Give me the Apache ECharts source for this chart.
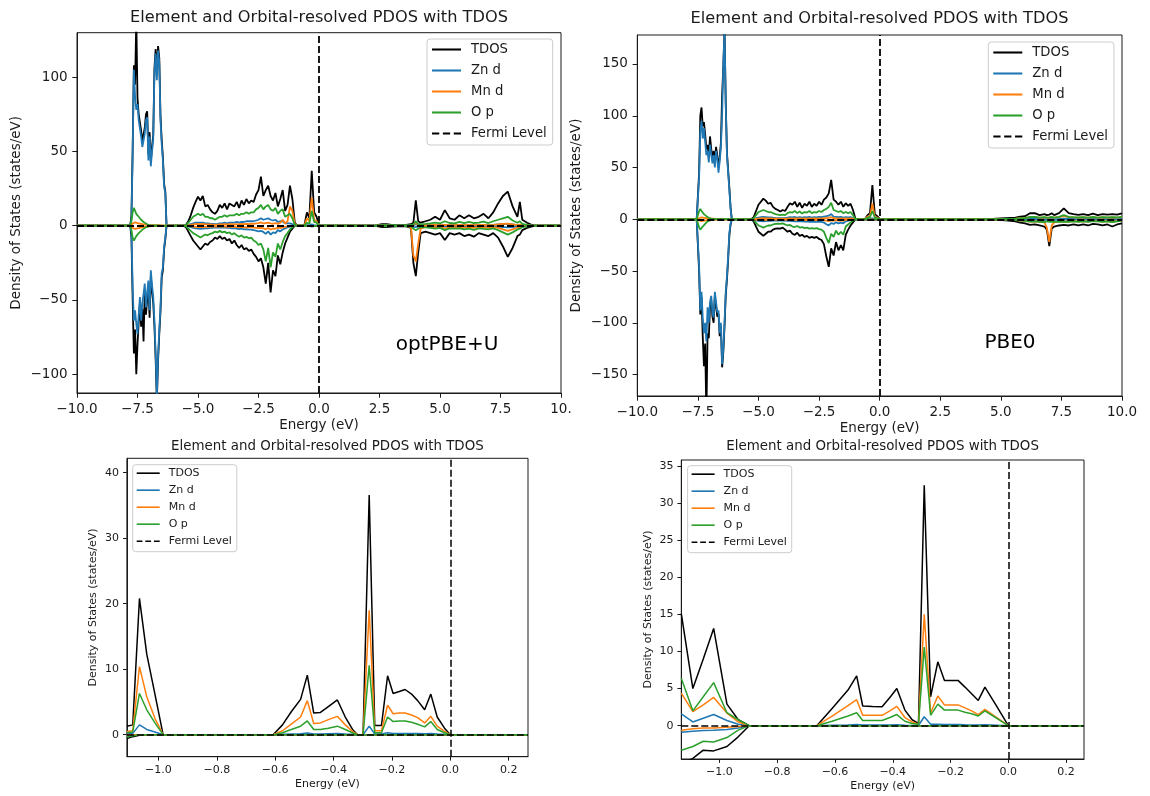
<!DOCTYPE html>
<html>
<head>
<meta charset="utf-8">
<script src="https://cdn.jsdelivr.net/npm/echarts@6/dist/echarts.min.js"></script>
<style>
  html, body { margin: 0; padding: 0; background: #ffffff; }
  #chart { width: 1150px; height: 796px; }
</style>
</head>
<body>
<div id="chart"></div>
<script>
// ---------------------------------------------------------------
// Spin-resolved PDOS of Mn-doped ZnO (spin up > 0, spin down < 0)
// ---------------------------------------------------------------
const fermiEnergy = 0;
const orbitalNames = ['TDOS', 'Zn d', 'Mn d', 'O p'];
const legendNames = ['TDOS', 'Zn d', 'Mn d', 'O p', 'Fermi Level'];

// Tick values and their printed text
const wideTicks = [-10, -7.5, -5, -2.5, 0, 2.5, 5, 7.5, 10];
const optWideTickText = ['\u221210.0', '\u22127.5', '\u22125.0', '\u22122.5', '0.0', '2.5', '5.0', '7.5', '10.'];
const pbeWideTickText = ['\u221210.0', '\u22127.5', '\u22125.0', '\u22122.5', '0.0', '2.5', '5.0', '7.5', '10.0'];
const optDosTicks = [-100, -50, 0, 50, 100];
const pbeDosTicks = [-150, -100, -50, 0, 50, 100, 150];
const nearTicks = [-1.0, -0.8, -0.6, -0.4, -0.2, 0.0, 0.2];
const optNearDosTicks = [0, 10, 20, 30, 40];
const pbeNearDosTicks = [0, 5, 10, 15, 20, 25, 30, 35];

// ---------------- optPBE+U, full window ----------------
const optE = [
  -10.0, -7.80,
  -7.75, -7.70, -7.65, -7.60, -7.55, -7.50, -7.45, -7.40, -7.35, -7.30,
  -7.25, -7.20, -7.15, -7.10, -7.05, -7.00, -6.95, -6.90, -6.85, -6.80,
  -6.75, -6.70, -6.65, -6.60, -6.55, -6.50, -6.45, -6.40, -6.35, -6.30,
  -5.6, -5.5, -5.4, -5.3, -5.2, -5.1, -5.0, -4.9, -4.8, -4.7,
  -4.6, -4.5, -4.4, -4.3, -4.2, -4.1, -4.0, -3.9, -3.8, -3.7,
  -3.6, -3.5, -3.4, -3.3, -3.2, -3.1, -3.0, -2.9, -2.8, -2.7,
  -2.6, -2.5, -2.4, -2.3, -2.2, -2.1, -2.0, -1.9, -1.8, -1.7,
  -1.6, -1.5, -1.4, -1.3, -1.2, -1.1, -1.0, -0.9, -0.8, -0.7,
  -0.6, -0.5, -0.4, -0.3, -0.2, -0.1, 0.0, 0.1,
  2.4, 2.6, 2.8, 3.0, 3.2, 3.4, 3.6, 3.8, 3.9, 4.0,
  4.1, 4.2, 4.4, 4.6, 4.8, 5.0, 5.2, 5.4, 5.6, 5.8,
  6.0, 6.2, 6.4, 6.6, 6.8, 7.0, 7.2, 7.4, 7.6, 7.8,
  8.0, 8.2, 8.3, 8.4, 8.6, 8.8, 9.0,
  10.0
];
const optTdosUp = [
  0, 0,
  7, 52, 108, 95, 140, 86, 75, 76, 64, 57,
  57, 66, 75, 77, 48, 63, 43, 53, 61, 106,
  119, 101, 121, 113, 74, 58, 46, 28, 23, 0,
  0, 0.5, 3, 7, 12, 16, 19.5, 17, 20, 13,
  14, 11, 9, 8, 10, 14, 12, 15, 11, 15,
  14, 13, 16, 12, 17, 14, 18, 15, 17, 16,
  21, 24, 33, 20, 24, 27, 20, 17, 22, 13,
  18, 24, 10, 14, 27, 18, 2, 0, 0, 0,
  0.5, 9, 5, 37, 9, 6, 0.5, 0,
  0.3, 1, 1, 0.6, 0.4, 0.3, 0.5, 1, 2, 17,
  3, 2, 3, 4, 6, 4, 10.5, 5, 4, 7,
  5, 7, 5, 6, 8, 5, 9, 15, 20, 23,
  13, 6, 16, 4, 2, 0.5, 0,
  0
];
const optTdosDown = [
  0, 0,
  -8, -50, -86, -70, -100, -80, -65, -52, -68, -56,
  -78, -44, -60, -50, -41, -62, -34, -44, -52, -68,
  -90, -118, -91, -73, -58, -35, -30, -16, -9, 0,
  0, -1, -4, -7, -10, -12, -14, -16, -14, -12,
  -13, -11, -10, -8, -9, -7, -9, -8, -10, -9,
  -12, -10, -13, -15, -13, -16, -15, -17, -16, -19,
  -21, -24, -22, -28, -39, -25, -45, -30, -34, -20,
  -26, -18, -12, -8, -4, -2, 0, 0, 0, 0,
  0, -0.3, -0.2, -0.5, -0.3, -0.2, 0, 0,
  -0.3, -1, -1, -0.6, -0.4, -0.3, -0.5, -1.5, -25, -34,
  -18, -5, -4, -5, -6, -5, -9.7, -5, -6, -5,
  -7, -6, -7.4, -5, -6, -7, -5, -8, -14, -21,
  -15, -7, -6, -3, -1.5, -0.5, 0,
  0
];
const optZnUp = [
  0, 0,
  5, 48, 105, 87, 78, 82, 71, 72, 60, 53,
  53, 62, 71, 73, 44, 60, 40, 50, 58, 103,
  116, 98, 118, 110, 71, 55, 44, 26, 22, 0,
  0, 0.1, 0.5, 1, 1.5, 2, 2, 2, 2, 1.5,
  1.5, 1.3, 1.2, 1, 1.2, 1.5, 1.5, 2, 1.5, 2,
  2, 2, 2.5, 2, 2.5, 2.5, 3, 3, 3, 3,
  3.5, 4, 5, 4, 4.5, 5, 4, 3.5, 4, 2.5,
  3, 3, 1.5, 1.5, 1.5, 1, 0.1, 0, 0, 0,
  0.1, 0.3, 0.2, 1, 0.2, 0.2, 0, 0,
  0.1, 0.2, 0.2, 0.1, 0.1, 0.1, 0.1, 0.2, 0.3, 1,
  0.3, 0.3, 0.3, 0.4, 0.5, 0.4, 0.6, 0.4, 0.4, 0.5,
  0.4, 0.5, 0.4, 0.5, 0.6, 0.4, 0.6, 0.8, 1, 1.2,
  0.8, 0.4, 0.6, 0.3, 0.2, 0.1, 0,
  0
];
const optZnDown = [
  0, 0,
  -5, -41, -64, -57, -66, -73, -60, -48, -64, -52,
  -46, -39, -55, -45, -37, -57, -30, -40, -48, -64,
  -86, -115, -88, -70, -55, -32, -28, -14, -8, 0,
  0, -0.1, -0.5, -1, -1.5, -1.8, -2, -2.2, -2, -1.8,
  -1.8, -1.5, -1.4, -1.2, -1.3, -1.1, -1.3, -1.2, -1.5, -1.4,
  -1.8, -1.6, -2, -2.3, -2, -2.5, -2.4, -2.7, -2.6, -3,
  -3.3, -3.8, -3.5, -4.2, -5.5, -3.8, -6, -4.5, -5, -3,
  -3.8, -2.6, -1.8, -1.2, -0.6, -0.3, 0, 0, 0, 0,
  0, -0.1, -0.1, -0.2, -0.1, -0.1, 0, 0,
  -0.1, -0.2, -0.2, -0.1, -0.1, -0.1, -0.1, -0.2, -0.8, -1,
  -0.6, -0.3, -0.3, -0.4, -0.5, -0.4, -0.6, -0.4, -0.5, -0.4,
  -0.5, -0.5, -0.6, -0.4, -0.5, -0.6, -0.4, -0.6, -0.9, -1.2,
  -0.9, -0.5, -0.5, -0.3, -0.2, -0.1, 0,
  0
];
const optMnUp = [
  0, 0,
  0.3, 1.5, 2.5, 2.2, 2, 1.8, 1.6, 1.4, 1.2, 1,
  0.9, 0.8, 0.7, 0.6, 0.5, 0.4, 0.3, 0.3, 0.3, 0.3,
  0.3, 0.3, 0.3, 0.3, 0.2, 0.2, 0.1, 0.1, 0.1, 0,
  0, 0.1, 0.3, 0.5, 0.8, 1, 1.2, 1.1, 1.2, 0.9,
  0.9, 0.8, 0.7, 0.6, 0.7, 0.9, 0.8, 1, 0.8, 1,
  1, 0.9, 1.1, 0.9, 1.2, 1, 1.3, 1.1, 1.3, 1.2,
  1.5, 1.7, 2.2, 1.5, 1.8, 2, 1.5, 1.3, 1.8, 1.2,
  2, 4, 1.5, 3, 13, 10, 1, 0, 0, 0,
  0.2, 5, 3, 19, 4, 3, 0.2, 0,
  0.1, 0.2, 0.2, 0.1, 0.1, 0.1, 0.1, 0.2, 0.3, 2,
  0.4, 0.3, 0.3, 0.4, 0.5, 0.4, 0.6, 0.4, 0.4, 0.5,
  0.4, 0.5, 0.4, 0.5, 0.6, 0.4, 0.6, 0.9, 1.2, 1.4,
  0.9, 0.4, 0.8, 0.3, 0.2, 0.1, 0,
  0
];
const optMnDown = [
  0, 0,
  -0.3, -1.5, -2.5, -2.2, -2, -1.8, -1.6, -1.4, -1.2, -1,
  -0.9, -0.8, -0.7, -0.6, -0.5, -0.4, -0.3, -0.3, -0.3, -0.3,
  -0.3, -0.3, -0.3, -0.3, -0.2, -0.2, -0.1, -0.1, -0.1, 0,
  0, -0.1, -0.3, -0.5, -0.7, -0.8, -0.9, -1, -0.9, -0.8,
  -0.8, -0.7, -0.6, -0.5, -0.6, -0.5, -0.6, -0.5, -0.7, -0.6,
  -0.8, -0.7, -0.9, -1, -0.9, -1.1, -1, -1.2, -1.1, -1.3,
  -1.4, -1.6, -1.5, -1.8, -2.4, -1.6, -2.6, -1.9, -2.1, -1.3,
  -1.6, -1.1, -0.8, -0.5, -0.3, -0.1, 0, 0, 0, 0,
  0, -0.1, -0.1, -0.2, -0.1, -0.1, 0, 0,
  -0.1, -0.3, -0.3, -0.2, -0.1, -0.1, -0.2, -1, -20, -24,
  -12, -2, -0.8, -1, -1.2, -1, -2, -1, -1.2, -1,
  -1.4, -1.2, -1.5, -1, -1.2, -1.4, -1, -1.5, -2.5, -3.5,
  -2.5, -1.2, -1, -0.5, -0.3, -0.1, 0,
  0
];
const optOpUp = [
  0, 0,
  3, 9, 12, 10, 8, 7, 6, 5, 4, 3,
  2.5, 2, 1.5, 1, 0.5, 0.3, 0.2, 0.2, 0.2, 0.2,
  0.2, 0.2, 0.2, 0.2, 0.1, 0.1, 0.1, 0.1, 0.1, 0,
  0, 0.3, 2, 4, 6, 7, 8, 7, 8, 6,
  6, 5, 5, 4, 5, 6, 6, 7, 6, 7,
  7, 7, 8, 7, 8, 8, 9, 8, 9, 9,
  11, 12, 14, 11, 13, 14, 11, 10, 12, 8,
  10, 11, 6, 7, 8, 5, 0.5, 0, 0, 0,
  0.2, 2, 1.3, 10, 2.5, 2, 0.2, 0,
  0.2, 0.4, 0.4, 0.3, 0.2, 0.2, 0.3, 0.5, 0.8, 3,
  1, 1, 1.2, 1.5, 2, 1.5, 3, 1.8, 1.5, 2.5,
  1.8, 2.5, 1.8, 2, 2.8, 1.8, 3, 4, 5, 6,
  3.5, 2, 3, 1.2, 0.6, 0.2, 0,
  0
];
const optOpDown = [
  0, 0,
  -3, -8, -10, -9, -7, -6, -5, -4, -3.5, -3,
  -2, -1.5, -1, -0.7, -0.4, -0.2, -0.1, -0.1, -0.1, -0.1,
  -0.1, -0.1, -0.1, -0.1, -0.1, -0.1, -0.1, -0.1, -0.1, 0,
  0, -0.5, -2, -3.5, -5, -6, -7, -8, -7, -6,
  -6.5, -5.5, -5, -4, -4.5, -3.5, -4.5, -4, -5, -4.5,
  -6, -5, -6.5, -7.5, -6.5, -8, -7.5, -8.5, -8, -10,
  -11, -13, -12, -16, -24, -15, -28, -18, -21, -12,
  -16, -11, -7, -5, -2.5, -1, 0, 0, 0, 0,
  0, -0.2, -0.1, -0.3, -0.2, -0.1, 0, 0,
  -0.2, -0.4, -0.4, -0.3, -0.2, -0.2, -0.3, -0.5, -2, -3,
  -2, -1, -1.2, -1.5, -2, -1.5, -3, -1.8, -2, -1.8,
  -2.5, -2, -2.8, -1.8, -2.2, -2.5, -1.8, -3, -4.5, -6,
  -4.5, -2.5, -2, -1, -0.5, -0.2, 0,
  0
];

// ---------------- PBE0, full window ----------------
const pbeE = [
  -10.0, -7.55,
  -7.50, -7.45, -7.40, -7.35, -7.30, -7.25, -7.20, -7.15, -7.10, -7.05,
  -7.00, -6.95, -6.90, -6.85, -6.80, -6.75, -6.70, -6.65, -6.60, -6.55,
  -6.50, -6.45, -6.40, -6.35, -6.30, -6.25, -6.20, -6.15, -6.10,
  -5.3, -5.2, -5.1, -5.0, -4.9, -4.8, -4.7, -4.6, -4.5, -4.4,
  -4.3, -4.2, -4.1, -4.0, -3.9, -3.8, -3.7, -3.6, -3.5, -3.4,
  -3.3, -3.2, -3.1, -3.0, -2.9, -2.8, -2.7, -2.6, -2.5, -2.4,
  -2.3, -2.2, -2.1, -2.0, -1.9, -1.8, -1.7, -1.6, -1.5, -1.4,
  -1.3, -1.2, -1.1, -1.0, -0.9, -0.8, -0.7, -0.6, -0.5, -0.4,
  -0.3, -0.2, -0.1, 0.0, 0.1,
  4.4, 4.8, 5.2, 5.6, 5.8, 6.0, 6.2, 6.4, 6.6, 6.8,
  6.9, 7.0, 7.1, 7.2, 7.4, 7.6, 7.8, 8.0, 8.2, 8.4,
  8.6, 8.8, 9.0, 9.2, 9.4, 9.6, 9.8, 10.0
];
const pbeTdosUp = [
  0, 0,
  0, 45, 100, 108, 90, 94, 82, 68, 72, 60,
  80, 68, 58, 66, 56, 70, 62, 50, 60, 74,
  120, 148, 185, 112, 64, 47, 30, 11, 0,
  0, 2, 8, 14, 17, 20, 18, 15, 16, 12,
  10, 9, 7.4, 9, 8, 12, 15.5, 14, 17, 12,
  16, 11, 15, 13, 17, 12, 15, 13, 17, 14,
  19, 21, 25, 38, 19, 17, 14, 17, 12, 15.5,
  13, 15, 9, 0.5, 0, 0, 0, 0.5, 4, 6,
  33, 5, 3, 0.5, 0,
  0, 0.5, 1, 1.5, 2.6, 3, 5.8, 6, 4, 5,
  4, 4.5, 5.8, 4, 6, 10.6, 6, 5, 4.2, 5,
  4, 5.5, 4, 5, 4.5, 5, 4.5, 5.8
];
const pbeTdosDown = [
  0, 0,
  0, -50, -92, -75, -113, -142, -120, -190, -110, -115,
  -85, -78, -94, -100, -74, -84, -94, -91, -113, -103,
  -143, -128, -103, -73, -58, -38, -15, -5, 0,
  0, -2, -7, -12, -14, -16, -14, -12, -12, -10,
  -9, -8.7, -9, -8, -10, -12, -11, -14, -15, -13,
  -16, -15, -17, -16, -18, -17, -18, -17, -19, -20,
  -24, -36, -46, -28, -35, -22, -30, -25, -30, -15,
  -10, -6, -3, 0, 0, 0, 0, 0, -0.2, -0.3,
  -0.5, -0.2, -0.1, 0, 0,
  0, -0.5, -1, -2, -3.2, -4, -5.5, -5, -6, -7,
  -10, -26, -9, -7, -6, -5.5, -6, -5, -6, -5,
  -6, -4.5, -5, -6, -5, -7, -5, -4
];
const pbeZnUp = [
  0, 0,
  0, 40, 85, 95, 78, 88, 75, 62, 66, 55,
  72, 63, 54, 62, 50, 66, 58, 45, 56, 70,
  100, 150, 182, 110, 62, 45, 28, 10, 0,
  0, 0.3, 1, 1.5, 2, 2.2, 2, 1.8, 1.8, 1.5,
  1.3, 1.2, 1, 1.2, 1.1, 1.5, 2, 1.8, 2.2, 1.6,
  2, 1.5, 2, 1.8, 2.2, 1.7, 2, 1.8, 2.3, 2,
  2.6, 3, 3.5, 5, 2.6, 2.4, 2, 2.4, 1.7, 2,
  1.8, 2, 1.2, 0.1, 0, 0, 0, 0.1, 0.3, 0.4,
  1, 0.3, 0.2, 0, 0,
  0, 0.05, 0.1, 0.1, 0.2, 0.2, 0.3, 0.3, 0.2, 0.3,
  0.2, 0.3, 0.3, 0.2, 0.3, 0.5, 0.3, 0.3, 0.2, 0.3,
  0.2, 0.3, 0.2, 0.3, 0.2, 0.3, 0.2, 0.3
];
const pbeZnDown = [
  0, 0,
  0, -45, -88, -70, -95, -110, -100, -118, -85, -100,
  -80, -74, -90, -95, -70, -80, -90, -88, -110, -100,
  -140, -125, -100, -70, -55, -35, -13, -4, 0,
  0, -0.3, -1, -1.5, -1.8, -2, -1.8, -1.6, -1.6, -1.4,
  -1.2, -1.2, -1.2, -1.1, -1.3, -1.6, -1.5, -1.8, -2, -1.7,
  -2.1, -2, -2.2, -2.1, -2.4, -2.2, -2.4, -2.2, -2.5, -2.6,
  -3.2, -4.8, -6, -3.6, -4.5, -2.9, -3.9, -3.2, -3.9, -2,
  -1.3, -0.8, -0.4, 0, 0, 0, 0, 0, -0.05, -0.1,
  -0.1, -0.05, 0, 0, 0,
  0, -0.05, -0.1, -0.2, -0.2, -0.3, -0.4, -0.3, -0.4, -0.5,
  -0.6, -1, -0.6, -0.5, -0.4, -0.4, -0.4, -0.3, -0.4, -0.3,
  -0.4, -0.3, -0.3, -0.4, -0.3, -0.5, -0.3, -0.3
];
const pbeMnUp = [
  0, 0,
  0, 1, 2, 1.8, 1.6, 1.4, 1.2, 1, 0.9, 0.8,
  0.7, 0.6, 0.5, 0.5, 0.4, 0.4, 0.4, 0.3, 0.3, 0.3,
  0.3, 0.3, 0.3, 0.2, 0.2, 0.1, 0.1, 0.1, 0,
  0, 0.1, 0.4, 0.7, 0.9, 1, 0.9, 0.8, 0.8, 0.6,
  0.5, 0.5, 0.4, 0.5, 0.4, 0.6, 0.8, 0.7, 0.9, 0.6,
  0.8, 0.6, 0.8, 0.7, 0.9, 0.6, 0.8, 0.7, 0.9, 0.7,
  1, 1.1, 1.3, 2, 1, 0.9, 0.7, 0.9, 0.6, 0.8,
  0.7, 0.8, 0.5, 0.1, 0, 0, 0, 0.3, 2.5, 3,
  15, 2, 1.5, 0.2, 0,
  0, 0.2, 0.4, 0.6, 1, 1.2, 2, 2, 1.5, 1.8,
  1.5, 1.6, 2, 1.5, 2, 3, 2, 1.8, 1.5, 1.8,
  1.5, 2, 1.5, 1.8, 1.6, 1.8, 1.6, 2
];
const pbeMnDown = [
  0, 0,
  0, -1, -2, -1.8, -1.6, -1.4, -1.2, -1, -0.9, -0.8,
  -0.7, -0.6, -0.5, -0.5, -0.4, -0.4, -0.4, -0.3, -0.3, -0.3,
  -0.3, -0.3, -0.3, -0.2, -0.2, -0.1, -0.1, -0.1, 0,
  0, -0.1, -0.3, -0.5, -0.6, -0.7, -0.6, -0.5, -0.5, -0.4,
  -0.4, -0.4, -0.4, -0.3, -0.4, -0.5, -0.5, -0.6, -0.6, -0.5,
  -0.6, -0.6, -0.7, -0.6, -0.7, -0.7, -0.7, -0.7, -0.8, -0.8,
  -1, -1.4, -1.8, -1.1, -1.4, -0.9, -1.2, -1, -1.2, -0.6,
  -0.4, -0.2, -0.1, 0, 0, 0, 0, 0, -0.1, -0.1,
  -0.2, -0.1, 0, 0, 0,
  0, -0.2, -0.4, -0.8, -1.2, -1.5, -2.2, -2, -2.4, -3,
  -8, -22, -6, -3, -2.3, -2, -2.3, -1.8, -2.3, -1.8,
  -2.3, -1.6, -1.8, -2.3, -1.8, -2.6, -1.8, -1.5
];
const pbeOpUp = [
  0, 0,
  0, 8, 10, 8, 6.5, 5, 4, 3, 2, 1.5,
  1, 0.6, 0.4, 0.3, 0.2, 0.2, 0.2, 0.2, 0.2, 0.2,
  0.2, 0.2, 0.2, 0.1, 0.1, 0.1, 0.1, 0.1, 0,
  0, 1, 4, 7, 8, 9, 8, 7, 7, 6,
  5, 4.5, 4, 4.5, 4, 6, 7, 6.5, 8, 6,
  7.5, 5.5, 7, 6.5, 8, 6, 7, 6.5, 8, 7,
  9, 10, 12, 16, 9, 8, 7, 8, 6, 7,
  6, 7, 4, 0.3, 0, 0, 0, 0.2, 1.5, 2,
  8, 2, 1, 0.2, 0,
  0, 0.2, 0.4, 0.6, 1, 1.2, 2.2, 2.3, 1.5, 2,
  1.6, 1.8, 2.3, 1.6, 2.3, 4, 2.4, 2, 1.7, 2,
  1.6, 2.2, 1.6, 2, 1.8, 2, 1.8, 2.3
];
const pbeOpDown = [
  0, 0,
  0, -8, -10, -9, -7, -6, -4.5, -3, -2, -1.5,
  -1, -0.5, -0.3, -0.2, -0.1, -0.1, -0.1, -0.1, -0.1, -0.1,
  -0.1, -0.1, -0.1, -0.1, -0.1, -0.1, -0.1, -0.1, 0,
  0, -1, -3.5, -6, -7, -8, -7, -6, -6, -5,
  -4.5, -4.3, -4.5, -4, -5, -6, -5.5, -7, -7.5, -6.5,
  -8, -7.5, -8.5, -8, -9, -8.5, -9, -8.5, -9.5, -10,
  -12, -18, -23, -14, -17, -11, -15, -12, -15, -7,
  -5, -3, -1.5, 0, 0, 0, 0, 0, -0.1, -0.1,
  -0.2, -0.1, 0, 0, 0,
  0, -0.2, -0.4, -0.8, -1.3, -1.6, -2.2, -2, -2.4, -2.8,
  -2, -2.5, -2.3, -2.6, -2.4, -2.2, -2.4, -2, -2.4, -2,
  -2.4, -1.8, -2, -2.4, -2, -2.8, -2, -1.6
];

// ---------------- optPBE+U, near the Fermi level ----------------
const optNearE = [
  -1.108, -1.088, -1.065, -1.040, -1.012, -0.984, -0.607, -0.575, -0.545, -0.513,
  -0.490, -0.468, -0.445, -0.418, -0.387, -0.360, -0.335, -0.318, -0.299, -0.278,
  -0.259, -0.236, -0.215, -0.196, -0.175, -0.155, -0.133, -0.112, -0.088, -0.067,
  -0.045, -0.020, 0.0, 0.266
];
const optNearTdosUp = [
  1.3, 1.5, 20.8, 12.3, 6.2, 0, 0, 1.5, 3.5, 5.4,
  9.1, 3.3, 3.4, 4.3, 5.3, 2.7, 0.8, 0, 0, 36.6,
  1.4, 1.4, 9.0, 6.3, 6.6, 6.9, 6.2, 5.2, 3.8, 6.2,
  2.7, 1.0, 0, 0
];
const optNearTdosDown = [
  -0.6, -0.3, -0.1, -0.05, 0, 0, 0, 0, 0, 0,
  0, 0, 0, 0, 0, 0, 0, 0, 0, 0,
  0, 0, 0, 0, 0, 0, 0, 0, 0, 0,
  0, 0, 0, 0
];
const optNearZnUp = [
  0.1, 0.2, 1.5, 0.8, 0.4, 0, 0, 0.05, 0.1, 0.15,
  0.25, 0.1, 0.1, 0.15, 0.2, 0.1, 0.05, 0, 0, 1.3,
  0.1, 0.1, 0.3, 0.2, 0.2, 0.2, 0.2, 0.2, 0.15, 0.2,
  0.1, 0.05, 0, 0
];
const optNearZnDown = [
  -0.1, -0.05, 0, 0, 0, 0, 0, 0, 0, 0,
  0, 0, 0, 0, 0, 0, 0, 0, 0, 0,
  0, 0, 0, 0, 0, 0, 0, 0, 0, 0,
  0, 0, 0, 0
];
const optNearMnUp = [
  0.5, 0.6, 10.4, 5.8, 2.5, 0, 0, 0.6, 1.6, 2.7,
  5.2, 1.7, 1.8, 2.3, 2.8, 1.5, 0.5, 0, 0, 19.0,
  0.6, 0.6, 4.5, 3.2, 3.3, 3.3, 3.0, 2.6, 1.8, 2.8,
  1.3, 0.5, 0, 0
];
const optNearMnDown = [
  -0.05, 0, 0, 0, 0, 0, 0, 0, 0, 0,
  0, 0, 0, 0, 0, 0, 0, 0, 0, 0,
  0, 0, 0, 0, 0, 0, 0, 0, 0, 0,
  0, 0, 0, 0
];
const optNearOpUp = [
  0.3, 0.4, 6.3, 3.8, 1.8, 0, 0, 0.3, 0.8, 1.3,
  2.1, 0.8, 0.8, 1.0, 1.3, 0.8, 0.3, 0, 0, 10.6,
  0.3, 0.3, 2.7, 2.0, 2.1, 2.1, 1.9, 1.6, 1.2, 2.0,
  0.8, 0.3, 0, 0
];
const optNearOpDown = [
  -0.3, -0.15, -0.05, 0, 0, 0, 0, 0, 0, 0,
  0, 0, 0, 0, 0, 0, 0, 0, 0, 0,
  0, 0, 0, 0, 0, 0, 0, 0, 0, 0,
  0, 0, 0, 0
];

// ---------------- PBE0, near the Fermi level ----------------
const pbeNearE = [
  -1.132, -1.092, -1.056, -1.020, -0.974, -0.935, -0.897, -0.663, -0.610, -0.555,
  -0.525, -0.504, -0.470, -0.437, -0.410, -0.386, -0.358, -0.333, -0.311, -0.291,
  -0.269, -0.244, -0.221, -0.198, -0.174, -0.150, -0.127, -0.104, -0.081, -0.040,
  0.0, 0.262
];
const pbeNearTdosUp = [
  15.1, 5.0, 9.0, 13.1, 2.9, 0.8, 0, 0, 2.3, 4.8,
  6.7, 2.65, 2.6, 2.56, 3.8, 5.0, 2.1, 0.8, 0.3, 32.4,
  3.9, 8.6, 6.1, 6.1, 6.1, 5.2, 4.3, 3.4, 5.2, 2.6,
  0, 0
];
const pbeNearTdosDown = [
  -5.2, -4.4, -3.3, -3.4, -2.8, -1.5, 0, 0, 0, 0,
  0, 0, 0, 0, 0, 0, 0, 0, 0, 0,
  0, 0, 0, 0, 0, 0, 0, 0, 0, 0,
  0, 0
];
const pbeNearZnUp = [
  1.6, 0.5, 1.0, 1.5, 0.7, 0.2, 0, 0, 0.05, 0.1,
  0.15, 0.08, 0.08, 0.08, 0.1, 0.12, 0.06, 0.03, 0.02, 1.2,
  0.2, 0.2, 0.15, 0.15, 0.15, 0.12, 0.1, 0.1, 0.12, 0.06,
  0, 0
];
const pbeNearZnDown = [
  -0.9, -0.75, -0.65, -0.6, -0.5, -0.3, 0, 0, 0, 0,
  0, 0, 0, 0, 0, 0, 0, 0, 0, 0,
  0, 0, 0, 0, 0, 0, 0, 0, 0, 0,
  0, 0
];
const pbeNearMnUp = [
  4.4, 1.9, 2.8, 3.8, 1.7, 0.5, 0, 0, 1.3, 2.7,
  3.5, 1.4, 1.4, 1.4, 2.0, 2.6, 1.1, 0.5, 0.2, 15.0,
  1.7, 4.0, 2.8, 2.8, 2.8, 2.4, 2.0, 1.5, 2.2, 1.1,
  0, 0
];
const pbeNearMnDown = [
  -0.6, -0.4, -0.3, -0.3, -0.2, -0.1, 0, 0, 0, 0,
  0, 0, 0, 0, 0, 0, 0, 0, 0, 0,
  0, 0, 0, 0, 0, 0, 0, 0, 0, 0,
  0, 0
];
const pbeNearOpUp = [
  6.4, 2.0, 3.9, 5.8, 1.75, 0.8, 0, 0, 0.6, 1.3,
  1.75, 0.7, 0.7, 0.7, 1.1, 1.5, 0.6, 0.3, 0.2, 10.6,
  1.4, 2.9, 2.1, 2.1, 2.1, 1.8, 1.6, 1.3, 2.0, 1.0,
  0, 0
];
const pbeNearOpDown = [
  -3.3, -2.8, -2.1, -2.2, -1.6, -0.6, 0, 0, 0, 0,
  0, 0, 0, 0, 0, 0, 0, 0, 0, 0,
  0, 0, 0, 0, 0, 0, 0, 0, 0, 0,
  0, 0
];

// ---------------------------------------------------------------
// Rendering
// ---------------------------------------------------------------
const FONT = 'DejaVu Sans';
const INK = '#1a1a1a';
const orbitalColors = { 'TDOS': '#000000', 'Zn d': '#1f77b4', 'Mn d': '#ff7f0e', 'O p': '#2ca02c' };
const PANEL_TITLE = 'Element and Orbital-resolved PDOS with TDOS';

// Legend handles: a solid stroke and a dashed stroke
const SOLID_HANDLE = 'path://M0,0H28V2H0Z';
const DASHED_HANDLE = 'path://M0,0H7V2H0Z M10.5,0H17.5V2H10.5Z M21,0H28V2H21Z';

function zip(xs, ys) { return xs.map((x, i) => [x, ys[i]]); }
function signed(v, digits) {
  const s = Math.abs(v).toFixed(digits);
  return v < -1e-9 ? '\u2212' + s : s;
}
function tickText(ticks, texts, digits) {
  return function (v) {
    for (let i = 0; i < ticks.length; i++) {
      if (Math.abs(ticks[i] - v) < 1e-6) return texts ? texts[i] : signed(ticks[i], digits);
    }
    return '';
  };
}

const panels = [
  {
    grid: { left: 77, top: 32.7, width: 484, height: 360.3 },
    xMin: -10, xMax: 10, xTicks: wideTicks, xText: optWideTickText, xDigits: 1,
    yMin: -112.7, yMax: 130, yTicks: optDosTicks, yDigits: 0,
    energy: optE,
    curves: {
      'TDOS': [optTdosUp, optTdosDown], 'Zn d': [optZnUp, optZnDown],
      'Mn d': [optMnUp, optMnDown], 'O p': [optOpUp, optOpDown]
    },
    large: true,
    legendPos: { left: 427, top: 39 },
    title: { x: 319, y: 18 }
  },
  {
    grid: { left: 637.3, top: 35, width: 484.7, height: 361 },
    xMin: -10, xMax: 10, xTicks: wideTicks, xText: pbeWideTickText, xDigits: 1,
    yMin: -170.7, yMax: 178, yTicks: pbeDosTicks, yDigits: 0,
    energy: pbeE,
    curves: {
      'TDOS': [pbeTdosUp, pbeTdosDown], 'Zn d': [pbeZnUp, pbeZnDown],
      'Mn d': [pbeMnUp, pbeMnDown], 'O p': [pbeOpUp, pbeOpDown]
    },
    large: true,
    legendPos: { left: 988.3, top: 42 },
    title: { x: 879.5, y: 19 }
  },
  {
    grid: { left: 126.9, top: 458.3, width: 401.1, height: 298.4 },
    xMin: -1.108, xMax: 0.266, xTicks: nearTicks, xText: null, xDigits: 1,
    yMin: -3.36, yMax: 42.2, yTicks: optNearDosTicks, yDigits: 0,
    energy: optNearE,
    curves: {
      'TDOS': [optNearTdosUp, optNearTdosDown], 'Zn d': [optNearZnUp, optNearZnDown],
      'Mn d': [optNearMnUp, optNearMnDown], 'O p': [optNearOpUp, optNearOpDown]
    },
    large: false,
    legendPos: { left: 132.7, top: 464.7 },
    title: { x: 327.4, y: 446.7 }
  },
  {
    grid: { left: 681.3, top: 460, width: 402.7, height: 299 },
    xMin: -1.132, xMax: 0.262, xTicks: nearTicks, xText: null, xDigits: 1,
    yMin: -4.49, yMax: 35.8, yTicks: pbeNearDosTicks, yDigits: 0,
    energy: pbeNearE,
    curves: {
      'TDOS': [pbeNearTdosUp, pbeNearTdosDown], 'Zn d': [pbeNearZnUp, pbeNearZnDown],
      'Mn d': [pbeNearMnUp, pbeNearMnDown], 'O p': [pbeNearOpUp, pbeNearOpDown]
    },
    large: false,
    legendPos: { left: 687.6, top: 465.7 },
    title: { x: 882.6, y: 447 }
  }
];

const grids = [], xAxes = [], yAxes = [], series = [], legends = [], graphics = [];

panels.forEach((p, i) => {
  const big = p.large;
  const tickFont = big ? 13.5 : 11;
  const nameFont = big ? 13.5 : 11;
  const tickLen = big ? 4.7 : 3.9;
  const labelMargin = big ? 9.4 : 7.8;
  const lineW = big ? 1.8 : 1.5;

  grids.push(Object.assign({
    show: true, borderColor: INK, borderWidth: 1, backgroundColor: 'transparent',
    containLabel: false, outerBoundsMode: 'none'
  }, p.grid));

  xAxes.push({
    gridIndex: i, type: 'value', min: p.xMin, max: p.xMax,
    axisLine: { show: true, onZero: false, lineStyle: { color: INK, width: 1 } },
    axisTick: { show: true, length: tickLen, customValues: p.xTicks, lineStyle: { color: INK, width: 1 } },
    axisLabel: {
      customValues: p.xTicks, formatter: tickText(p.xTicks, p.xText, p.xDigits),
      fontFamily: FONT, fontSize: tickFont, color: INK, margin: labelMargin
    },
    splitLine: { show: false },
    name: 'Energy (eV)', nameLocation: 'middle', nameGap: big ? 25 : 21.5,
    nameMoveOverlap: false,
    nameTextStyle: { fontFamily: FONT, fontSize: nameFont, color: INK }
  });

  yAxes.push({
    gridIndex: i, type: 'value', min: p.yMin, max: p.yMax,
    axisLine: { show: true, onZero: false, lineStyle: { color: INK, width: 1 } },
    axisTick: { show: true, length: tickLen, customValues: p.yTicks, lineStyle: { color: INK, width: 1 } },
    axisLabel: {
      customValues: p.yTicks, formatter: tickText(p.yTicks, null, p.yDigits),
      fontFamily: FONT, fontSize: tickFont, color: INK, margin: labelMargin
    },
    splitLine: { show: false },
    name: 'Density of States (states/eV)', nameLocation: 'middle', nameRotate: 90,
    nameGap: big ? 53.5 : 28,
    nameMoveOverlap: false,
    nameTextStyle: { fontFamily: FONT, fontSize: nameFont, color: INK }
  });

  orbitalNames.forEach((name) => {
    const [up, down] = p.curves[name];
    [up, down].forEach((vals) => {
      series.push({
        name: name, type: 'line', xAxisIndex: i, yAxisIndex: i,
        data: zip(p.energy, vals),
        symbol: 'none', showSymbol: false, clip: true,
        lineStyle: { color: orbitalColors[name], width: lineW },
        itemStyle: { color: orbitalColors[name] },
        emphasis: { disabled: true }, silent: true, animation: false
      });
    });
  });

  // Fermi level (vertical) and the zero-DOS guide (horizontal)
  series.push({
    name: 'Fermi Level', type: 'line', xAxisIndex: i, yAxisIndex: i,
    data: [], symbol: 'none', showSymbol: false,
    lineStyle: { color: '#000000', width: lineW, type: [7, 3] },
    itemStyle: { color: '#000000' },
    markLine: {
      silent: true, symbol: ['none', 'none'], animation: false,
      label: { show: false },
      lineStyle: { color: '#000000', width: lineW, type: [7, 3] },
      emphasis: { disabled: true },
      data: [{ xAxis: fermiEnergy }, { yAxis: 0 }]
    },
    z: 5, animation: false
  });

  legends.push({
    orient: 'vertical', left: p.legendPos.left, top: p.legendPos.top,
    data: legendNames.map((n) => ({ name: n, icon: n === 'Fermi Level' ? DASHED_HANDLE : SOLID_HANDLE })),
    selectedMode: false, symbolKeepAspect: true,
    itemWidth: big ? 29 : 23, itemHeight: big ? 14 : 11, itemGap: big ? 8 : 6,
    padding: big ? [4, 6, 5, 5] : [3, 5, 5, 4],
    backgroundColor: 'rgba(255,255,255,0.85)', borderColor: '#cccccc',
    borderWidth: 1, borderRadius: 3,
    itemStyle: { borderWidth: 0 },
    textStyle: { fontFamily: FONT, fontSize: big ? 13.2 : 11, color: INK, padding: [0, 0, 0, big ? 5 : 4] }
  });

  graphics.push({
    type: 'text', x: p.title.x, y: p.title.y, silent: true,
    style: {
      text: PANEL_TITLE, fill: INK, fontFamily: FONT, fontSize: big ? 16.2 : 13.4,
      align: 'center', verticalAlign: 'middle', textAlign: 'center', textVerticalAlign: 'middle'
    }
  });
});

// Method labels inside the full-range panels
[['optPBE+U', 447, 345], ['PBE0', 1010, 343]].forEach(([text, x, y]) => {
  graphics.push({
    type: 'text', x: x, y: y, silent: true,
    style: {
      text: text, fill: '#000000', fontFamily: FONT, fontSize: 20,
      align: 'center', verticalAlign: 'middle', textAlign: 'center', textVerticalAlign: 'middle'
    }
  });
});

const chart = echarts.init(document.getElementById('chart'), null, { renderer: 'canvas' });
chart.setOption({
  animation: false,
  backgroundColor: '#ffffff',
  textStyle: { fontFamily: FONT },
  grid: grids,
  xAxis: xAxes,
  yAxis: yAxes,
  legend: legends,
  series: series,
  graphic: graphics
});
</script>
</body>
</html>
